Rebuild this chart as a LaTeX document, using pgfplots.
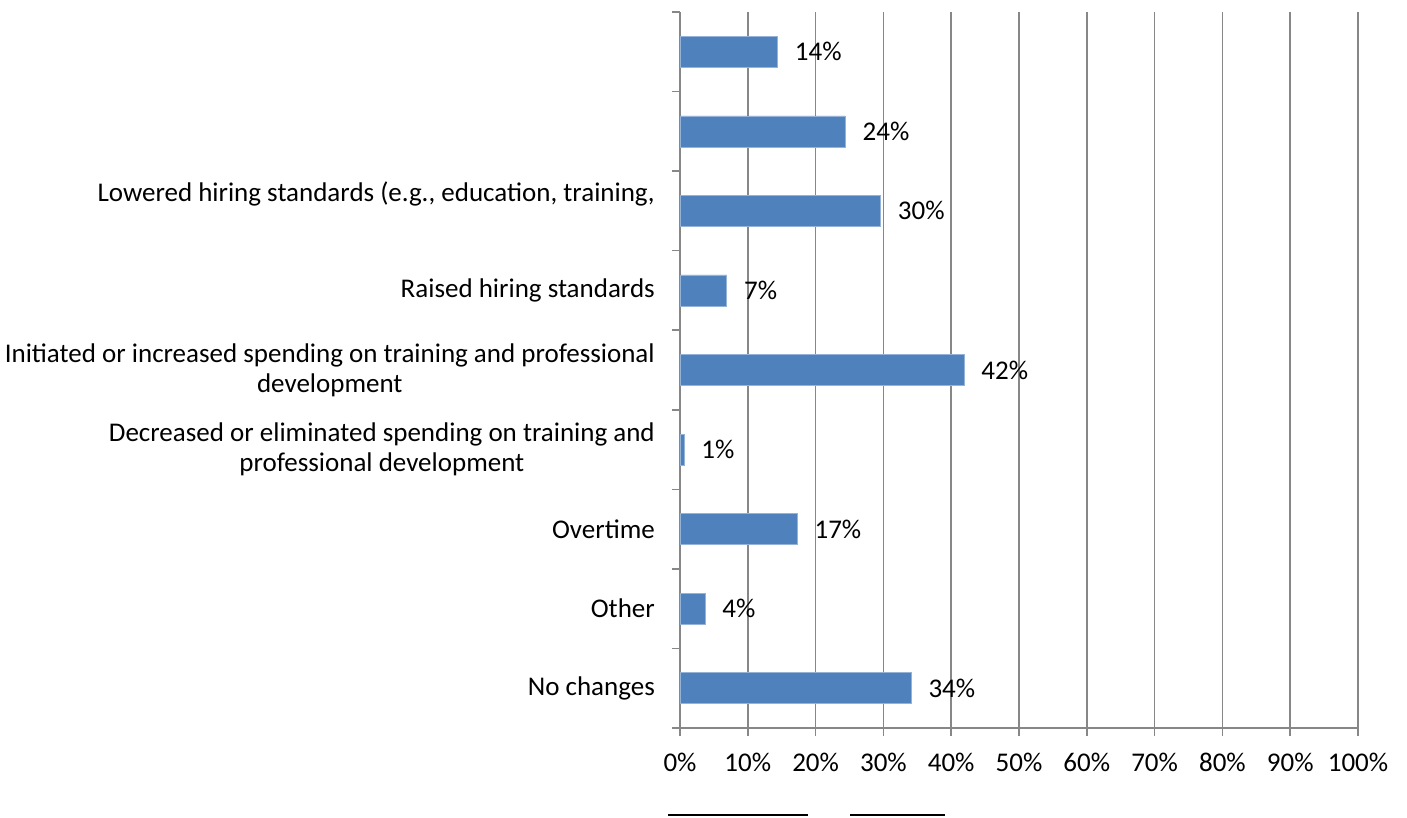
\documentclass[border=0pt]{standalone}
\usepackage{fontspec}
\setmainfont{Carlito}
\usepackage{pgfplots}
\pgfplotsset{compat=1.18}
\definecolor{barblue}{HTML}{4F81BD}
\definecolor{gridgray}{HTML}{878787}
\begin{document}
\fontsize{27}{30}\selectfont
\begin{tikzpicture}
\path[use as bounding box] (0,0) rectangle (1407pt,818pt);
\begin{axis}[
  at={(680pt,90pt)}, anchor=south west,
  scale only axis, width=678pt, height=716pt,
  xbar, bar width=31pt,
  xmin=0, xmax=100, ymin=-0.5, ymax=8.5, y dir=reverse,
  axis x line*=bottom, axis y line*=left,
  axis line style={gridgray, line width=1.6pt},
  xtick={0,10,...,100},
  xticklabels={0\%,10\%,20\%,30\%,40\%,50\%,60\%,70\%,80\%,90\%,100\%},
  xmajorgrids, grid style={gridgray, line width=1.6pt},
  tick align=outside, major tick length=8pt, minor tick length=8pt,
  xtick style={gridgray, line width=1.6pt},
  ytick={0,...,8},
  yticklabels={{},{},{Lowered hiring standards (e.g., education, training,\\\strut},
    {Raised hiring standards},
    {Initiated or increased spending on training and professional\\development},
    {Decreased or eliminated spending on training and\\professional development},
    {Overtime},{Other},{No changes}},
  minor ytick={-0.5,0.5,...,8.5},
  major y tick style={draw=none},
  minor y tick style={draw=gridgray, line width=1.6pt},
  ticklabel style={font=\fontsize{27}{30}\selectfont, text=black},
  yticklabel style={align=center, xshift=-8pt},
  xticklabel style={yshift=-8pt},
  /pgf/number format/assume math mode=true,
  nodes near coords={\pgfmathprintnumber{\pgfplotspointmeta}\%},
  point meta=explicit,
  every node near coord/.append style={font=\fontsize{27}{30}\selectfont, text=black, anchor=west, xshift=8pt},
]
\addplot[fill=barblue, draw=barblue!60!white, line width=0.6pt] coordinates {
  (14.4,0) [14]
  (24.4,1) [24]
  (29.6,2) [30]
  (6.9,3) [7]
  (41.9,4) [42]
  (0.6,5) [1]
  (17.3,6) [17]
  (3.7,7) [4]
  (34.1,8) [34]
};
\end{axis}
\draw[black, line width=2pt] (668pt,3pt) -- (808pt,3pt);
\draw[black, line width=2pt] (850pt,3pt) -- (945pt,3pt);
\end{tikzpicture}
\end{document}
